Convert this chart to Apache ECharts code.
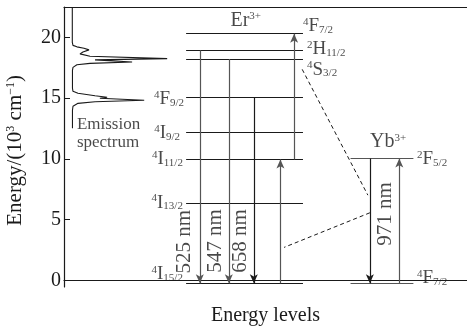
<!DOCTYPE html>
<html>
<head>
<meta charset="utf-8">
<script src="https://cdn.jsdelivr.net/npm/echarts@6/dist/echarts.min.js"></script>
<style>
  html, body { margin: 0; padding: 0; background: #fff; }
  #chart { width: 467px; height: 330px; }
</style>
</head>
<body>
<div id="chart"></div>
<script>
// y ticks (10^3 cm^-1)
const yTicks = [0, 5, 10, 15, 20];

// Er3+ levels
const erLevelNames = ["4I15/2", "4I13/2", "4I11/2", "4I9/2", "4F9/2", "4S3/2", "2H11/2", "4F7/2"];
const erLevelEnergy = [-0.25, 6.33, 9.95, 12.17, 15.04, 18.22, 18.93, 20.3];
const erSpan = [30.3, 59.3];

// Yb3+ levels
const ybLevelNames = ["4F7/2", "2F5/2"];
const ybLevelEnergy = [-0.25, 10.03];
const ybSpan = [71.1, 86.7];

// emission (down arrows)
const emissionNames = ["525 nm", "547 nm", "658 nm"];
const emissionX = [33.7, 40.9, 47.1];
const emissionFrom = [18.93, 18.22, 15.04];
const emissionTo = [-0.25, -0.25, -0.25];

// up-conversion pumping (up arrows)
const pumpX = [53.7, 57.1];
const pumpFrom = [-0.25, 9.95];
const pumpTo = [9.95, 20.3];

// Yb3+ absorption / relaxation
const ybArrowX = [75.9, 83.2];
const ybArrowFrom = [10.03, -0.25];
const ybArrowTo = [-0.25, 10.03];

// dashed energy-transfer lines
const transferX1 = [59.1, 75.9];
const transferY1 = [17.37, 5.56];
const transferX2 = [75.4, 54.6];
const transferY2 = [7.01, 2.71];

// emission spectrum (intensity, energy)
const specIntensity = [2.06, 2.06, 2.23, 3.2, 4.96, 6.2, 4.7, 3.97, 6.45, 25.6, 7.7, 16.9, 6.45, 3.2, 2.23, 2.1,
  2.1, 2.23, 3.47, 7.7, 10.7, 8.9, 19.9, 7.7, 3.47, 2.23, 2.1, 2.1];
const specEnergy = [22.5, 19.59, 19.34, 19.22, 19.1, 18.97, 18.8, 18.64, 18.44, 18.25, 18.15, 17.97, 17.86, 17.74, 17.53, 17.29,
  15.81, 15.56, 15.4, 15.19, 15.07, 14.99, 14.82, 14.7, 14.57, 14.33, 14.0, 12.52];

// text labels placed in data coordinates
const labelText = ["Er3+", "4F7/2", "2H11/2", "4S3/2", "4F9/2", "4I9/2", "4I11/2", "4I13/2", "4I15/2",
  "Yb3+", "2F5/2", "4F7/2", "Emission", "spectrum"];
const labelX = [45.1, 59.3, 60.3, 60.3, 29.8, 28.8, 29.5, 29.5, 29.5, 80.4, 87.6, 87.6, 3.2, 3.2];
const labelY = [21.4, 20.9, 19.05, 17.35, 14.9, 12.15, 9.95, 6.4, 0.5, 11.37, 10.0, 0.15, 12.85, 11.35];
const labelAlign = ["center", "left", "left", "left", "right", "right", "right", "right", "right",
  "center", "left", "left", "left", "left"];

// rotated wavelength labels
const waveText = ["525 nm", "547 nm", "658 nm", "971 nm"];
const waveX = [30.0, 37.6, 43.7, 79.7];
const waveY = [3.18, 3.23, 3.23, 5.46];

const FONT = "Liberation Serif";
const INK = "#1a1a1a";

function term(s) {
  if (s.endsWith("3+")) return "{ion|" + s.slice(0, -2) + "}{sup|3+}";
  if (/^\d[A-Z]/.test(s)) return "{sup|" + s[0] + "}{main|" + s[1] + "}{sub|" + s.slice(2) + "}";
  return "{plain|" + s + "}";
}

const rich = {
  main: { fontFamily: FONT, fontSize: 19, lineHeight: 19, verticalAlign: "top", color: INK },
  ion: { fontFamily: FONT, fontSize: 20, lineHeight: 20, verticalAlign: "top", color: INK },
  sup: { fontFamily: FONT, fontSize: 11, lineHeight: 11, verticalAlign: "top", color: INK },
  sub: { fontFamily: FONT, fontSize: 11, lineHeight: 11, padding: [11, 0, 0, 0], verticalAlign: "bottom", color: INK },
  plain: { fontFamily: FONT, fontSize: 17, lineHeight: 17, color: INK }
};

const marks = [];
function seg(x1, y1, x2, y2, style, arrow) {
  marks.push([
    { coord: [x1, y1], symbol: "none", lineStyle: style },
    { coord: [x2, y2], symbol: arrow ? "arrow" : "none", symbolSize: [6, 9] }
  ]);
}
const solid = { color: INK, width: 1.2, type: "solid" };
const grey = { color: "#555", width: 1.2, type: "solid" };
erLevelEnergy.forEach((e) => seg(erSpan[0], e, erSpan[1], e, solid, false));
ybLevelEnergy.forEach((e) => seg(ybSpan[0], e, ybSpan[1], e, grey, false));
emissionX.forEach((x, i) => seg(x, emissionFrom[i], x, emissionTo[i], i < 2 ? grey : solid, true));
pumpX.forEach((x, i) => seg(x, pumpFrom[i], x, pumpTo[i], grey, true));
ybArrowX.forEach((x, i) => seg(x, ybArrowFrom[i], x, ybArrowTo[i], i === 0 ? solid : grey, true));
transferX1.forEach((x, i) => seg(x, transferY1[i], transferX2[i], transferY2[i],
  { color: INK, width: 1, type: [4, 3] }, false));

const chart = echarts.init(document.getElementById("chart"));
chart.setOption({
  animation: false,
  backgroundColor: "#fff",
  grid: { left: 64, right: 0, top: 7, bottom: 43, outerBoundsMode: "none", containLabel: false },
  xAxis: [
    {
      type: "value", min: 0, max: 100, position: "bottom",
      name: "Energy levels", nameLocation: "middle", nameGap: 19,
      nameTextStyle: { fontFamily: FONT, fontSize: 20, color: INK },
      axisLine: { show: true, lineStyle: { color: INK, width: 1.2 } },
      axisTick: { show: false }, axisLabel: { show: false }, splitLine: { show: false }
    },
    {
      type: "value", min: 0, max: 100, position: "top",
      axisLine: { show: true, lineStyle: { color: INK, width: 1.2 } },
      axisTick: { show: false }, axisLabel: { show: false }, splitLine: { show: false }
    }
  ],
  yAxis: {
    type: "value", min: -0.55, max: 22.5,
    axisLine: { show: true, lineStyle: { color: INK, width: 1.2 } },
    axisTick: { show: true, inside: true, length: 6, customValues: yTicks, lineStyle: { color: INK } },
    axisLabel: { customValues: yTicks, fontFamily: FONT, fontSize: 20, color: INK, margin: 3 },
    splitLine: { show: false }
  },
  graphic: [{
    type: "text", left: 5, top: 75, rotation: Math.PI / 2,
    style: {
      text: "{t|Energy/(10}{s|3}{t| cm}{s|−1}{t|)}",
      rich: {
        t: { fontFamily: FONT, fontSize: 21, lineHeight: 21, verticalAlign: "bottom", fill: INK },
        s: { fontFamily: FONT, fontSize: 12, lineHeight: 21, verticalAlign: "top", fill: INK }
      }
    }
  }],
  series: [
    {
      type: "line", xAxisIndex: 0, showSymbol: false, silent: true,
      data: specEnergy.map((e, i) => [specIntensity[i], e]),
      lineStyle: { color: INK, width: 1.1 },
      markLine: { silent: true, label: { show: false }, data: marks }
    },
    {
      type: "scatter", symbolSize: 0, silent: true,
      data: labelText.map((t, i) => ({
        value: [labelX[i], labelY[i]],
        label: {
          show: true, position: [0, 0], align: labelAlign[i], verticalAlign: "middle",
          formatter: i >= 12 ? t : term(t), rich: rich,
          fontFamily: FONT, fontSize: 17, color: INK
        }
      }))
    },
    {
      type: "scatter", symbolSize: 0, silent: true,
      data: waveText.map((t, i) => ({
        value: [waveX[i], waveY[i]],
        label: {
          show: true, position: [0, 0], align: "center", verticalAlign: "middle", rotate: 90,
          formatter: t, fontFamily: FONT, fontSize: 21, color: INK
        }
      }))
    }
  ]
});
</script>
</body>
</html>
